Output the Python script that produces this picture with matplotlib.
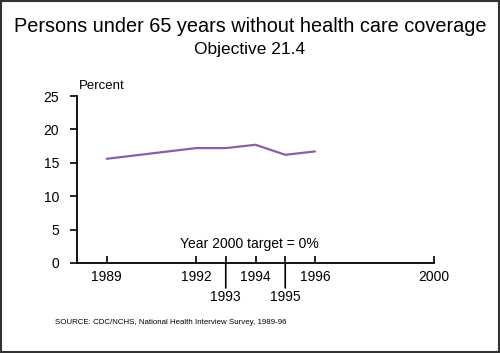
import matplotlib.pyplot as plt
from matplotlib.patches import Rectangle

plt.rcParams['font.family'] = ['Liberation Sans', 'DejaVu Sans']

years = [1989, 1992, 1993, 1994, 1995, 1996]
percent = [15.6, 17.2, 17.2, 17.7, 16.2, 16.7]
upper_ticks = [1989, 1992, 1994, 1996, 2000]
lower_ticks = [1993, 1995]
y_ticks = [0, 5, 10, 15, 20, 25]

fig = plt.figure(figsize=(5, 3.53), dpi=100)
ax = fig.add_axes([0.154, 0.255, 0.714, 0.473])

ax.plot(years, percent, color='#8a5ea8', lw=1.6, solid_capstyle='round')

ax.set_xlim(1988, 2000)
ax.set_ylim(0, 25)
ax.spines['top'].set_visible(False)
ax.spines['right'].set_visible(False)
for s in ('left', 'bottom'):
    ax.spines[s].set_linewidth(1.3)

ax.set_yticks(y_ticks)
ax.tick_params(axis='y', direction='out', length=5, width=1.2, labelsize=10, pad=8)
ax.set_xticks(upper_ticks + lower_ticks)
ax.set_xticklabels([str(y) for y in upper_ticks] + ['', ''])
ax.tick_params(axis='x', direction='in', length=5, width=1.2, labelsize=10, pad=5)

# lower labels with connector lines
for yr in lower_ticks:
    ax.annotate('', xy=(yr, 0), xycoords='data', xytext=(0, -18),
                textcoords='offset points',
                arrowprops=dict(arrowstyle='-', lw=1.2, color='black',
                                shrinkA=0, shrinkB=0))
    ax.annotate(str(yr), xy=(yr, 0), xycoords='data', xytext=(0, -19.5),
                textcoords='offset points', ha='center', va='top', fontsize=10)

ax.text(1993.8, 2.9, 'Year 2000 target = 0%', ha='center', va='center', fontsize=10)
ax.text(1988.05, 25.6, 'Percent', ha='left', va='bottom', fontsize=9.5)

fig.text(0.5, 0.925, 'Persons under 65 years without health care coverage',
         ha='center', va='center', fontsize=14.3)
fig.text(0.5, 0.86, 'Objective 21.4', ha='center', va='center', fontsize=12.5)
fig.text(0.11, 0.085, 'SOURCE: CDC/NCHS, National Health Interview Survey, 1989-96',
         ha='left', va='center', fontsize=5.7)

fig.patches.append(Rectangle((0.002, 0.003), 0.996, 0.994, transform=fig.transFigure,
                             fill=False, edgecolor='#333333', lw=1.5))

fig.savefig('out.png', dpi=100)
